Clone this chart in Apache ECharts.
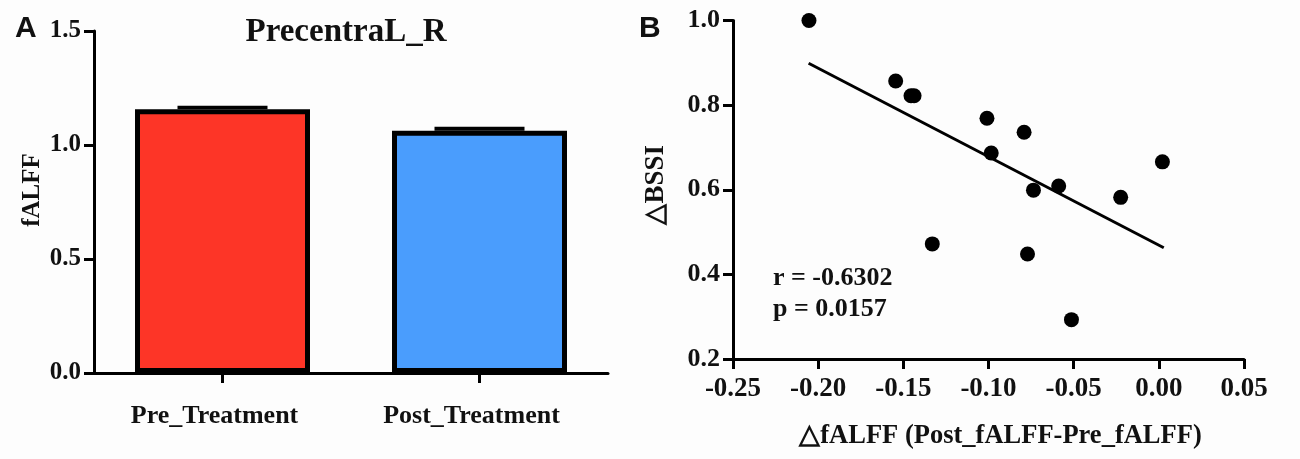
<!DOCTYPE html>
<html><head><meta charset="utf-8">
<style>html,body{margin:0;padding:0;background:#fff}#c{width:1300px;height:459px}</style>
<script src="https://cdn.jsdelivr.net/npm/echarts@6/dist/echarts.min.js"></script>
</head><body><div id="c"></div>
<script>
const categories = ['Pre_Treatment', 'Post_Treatment'];
const barValues = [1.157, 1.063];
const errorTops = [1.172, 1.08];
const barColors = ['#fd3527', '#4a9dfd'];
const yTicksA = [0, 1.5];
const scatterX = [-0.2054,-0.1545,-0.1455,-0.1437,-0.1009,-0.0791,-0.0984,0.0021,-0.0588,-0.0736,-0.0224,-0.133,-0.0771,-0.0513];
const scatterY = [1.0,0.857,0.822,0.822,0.769,0.736,0.687,0.666,0.609,0.599,0.582,0.472,0.448,0.293];
const fitX = [-0.2056, 0.0029];
const fitY = [0.899, 0.463];
const serif = '"Liberation Serif","Times New Roman",serif';
const axisBase = {
  axisLine:{show:true,onZero:false,lineStyle:{color:'#000',width:3}},
  axisTick:{show:true,length:10,lineStyle:{color:'#000',width:3}},
  splitLine:{show:false},
  axisLabel:{color:'#111',fontFamily:serif,fontWeight:'bold',fontSize:25}
};
const chart = echarts.init(document.getElementById('c'));
chart.setOption({
  animation:false,
  backgroundColor:'#fdfdfd',
  title:[
    {text:'PrecentraL_R',left:341,top:11,textAlign:'center',textStyle:{fontFamily:serif,fontWeight:'bold',fontSize:33,color:'#111'}},
    {text:'A',left:10,top:9,textStyle:{fontFamily:'"Liberation Sans",Arial,sans-serif',fontWeight:'bold',fontSize:30,color:'#111'}},
    {text:'B',left:634,top:9,textStyle:{fontFamily:'"Liberation Sans",Arial,sans-serif',fontWeight:'bold',fontSize:30,color:'#111'}},
    {text:'r = -0.6302',left:768,top:260,textStyle:{fontFamily:serif,fontWeight:'bold',fontSize:26,color:'#111'}},
    {text:'p = 0.0157',left:768,top:291,textStyle:{fontFamily:serif,fontWeight:'bold',fontSize:26,color:'#111'}}
  ],
  grid:[
    {left:94,top:31,width:514,height:342},
    {left:733,top:20.5,width:511,height:338.5}
  ],
  xAxis:[
    Object.assign({},axisBase,{gridIndex:0,type:'category',data:categories,
      axisTick:{show:true,alignWithLabel:true,length:10,lineStyle:{color:'#000',width:3}},
      axisLabel:Object.assign({},axisBase.axisLabel,{margin:30,fontSize:26,interval:0,padding:[0,16,0,0]})}),
    Object.assign({},axisBase,{gridIndex:1,type:'value',min:-0.25,max:0.05,interval:0.05,
      name:'△fALFF (Post_fALFF-Pre_fALFF)',nameLocation:'middle',nameGap:64,
      nameTextStyle:{fontFamily:serif,fontWeight:'bold',fontSize:26.5,color:'#111',padding:[0,0,0,24]},
      axisLabel:Object.assign({},axisBase.axisLabel,{margin:17,fontSize:27,formatter:v=>v.toFixed(2)})})
  ],
  yAxis:[
    Object.assign({},axisBase,{gridIndex:0,type:'value',min:yTicksA[0],max:yTicksA[1],interval:0.5,
      name:'fALFF',nameLocation:'middle',nameGap:49,
      nameTextStyle:{fontFamily:serif,fontWeight:'bold',fontSize:25,color:'#111',padding:[0,0,0,24]},
      axisLabel:Object.assign({},axisBase.axisLabel,{margin:13,padding:[4,0,0,0],formatter:v=>v.toFixed(1)})}),
    Object.assign({},axisBase,{gridIndex:1,type:'value',min:0.2,max:1.0,interval:0.2,
      name:'△BSSI',nameLocation:'middle',nameGap:63,
      nameTextStyle:{fontFamily:serif,fontWeight:'bold',fontSize:27,color:'#111',padding:[0,0,0,10]},
      axisLabel:Object.assign({},axisBase.axisLabel,{margin:13,fontSize:26,padding:[4,0,0,0],formatter:v=>v.toFixed(1)})})
  ],
  series:[
    {type:'bar',xAxisIndex:0,yAxisIndex:0,barWidth:175,
      data:barValues.map((v,i)=>({value:v,itemStyle:{color:barColors[i],borderColor:'#000',borderWidth:5}}))},
    {type:'custom',xAxisIndex:0,yAxisIndex:0,clip:false,z:5,
      data:categories.map((c,i)=>[i,barValues[i],errorTops[i]]),
      renderItem:(p,api)=>{
        const a=api.coord([api.value(0),api.value(1)]);
        const b=api.coord([api.value(0),api.value(2)]);
        return {type:'rect',shape:{x:a[0]-45,y:b[1],width:90,height:a[1]-b[1]},style:{fill:'#000'}};
      }},
    {type:'scatter',xAxisIndex:1,yAxisIndex:1,symbolSize:15,clip:false,z:4,itemStyle:{color:'#000',opacity:1},
      data:scatterX.map((x,i)=>[x,scatterY[i]])},
    {type:'line',xAxisIndex:1,yAxisIndex:1,symbol:'none',z:3,lineStyle:{color:'#000',width:3},
      data:fitX.map((x,i)=>[x,fitY[i]])}
  ]
});
</script></body></html>
